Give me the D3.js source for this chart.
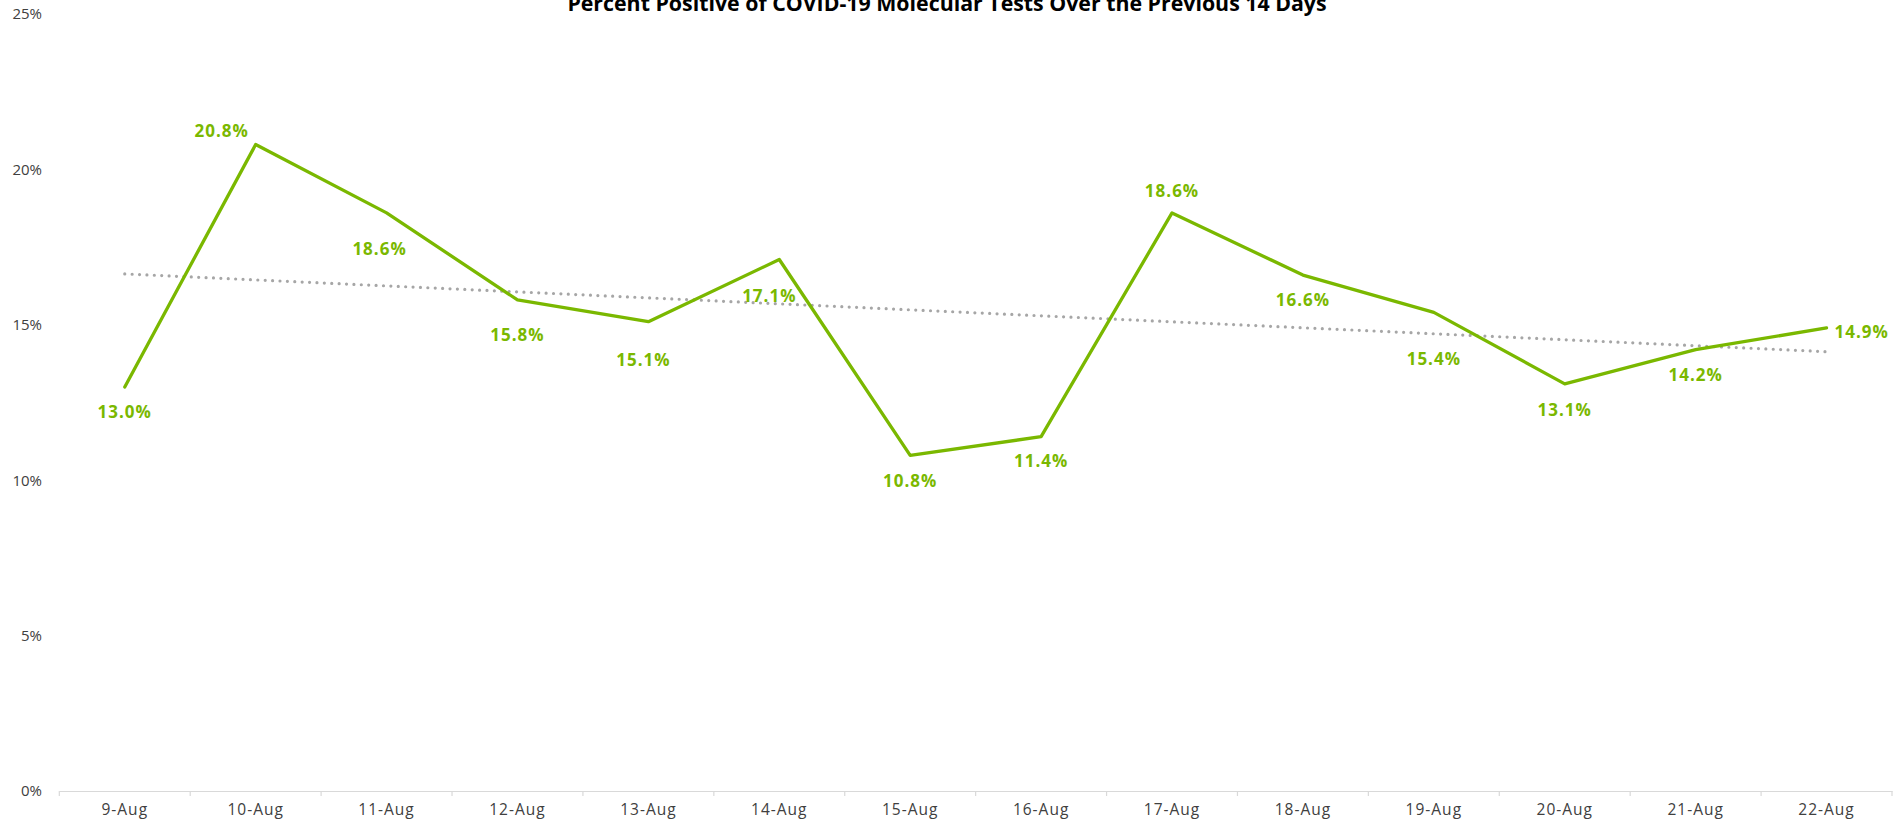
<!DOCTYPE html>
<html>
<head>
<meta charset="utf-8">
<script src="https://cdn.jsdelivr.net/npm/d3@7"></script>
<style>
  html, body { margin: 0; padding: 0; background: #ffffff; }
  svg { display: block; }
</style>
</head>
<body>
<svg id="chart" width="1895" height="827"></svg>
<script>
// ---- data ----
const title = "Percent Positive of COVID-19 Molecular Tests Over the Previous 14 Days";
const categories = ["9-Aug","10-Aug","11-Aug","12-Aug","13-Aug","14-Aug","15-Aug","16-Aug","17-Aug","18-Aug","19-Aug","20-Aug","21-Aug","22-Aug"];
const percentPositive = [13.0, 20.8, 18.6, 15.8, 15.1, 17.1, 10.8, 11.4, 18.6, 16.6, 15.4, 13.1, 14.2, 14.9];
const yTicks = [0, 5, 10, 15, 20, 25];

// ---- label layout (offsets from each point, px) ----
const labelOffsetX = [0, -34, -7, 0, -5, -10, 0, 0, 0, 0, 0, 0, 0, 8];
const labelOffsetY = [25, -14, 36, 35, 38, 36, 26, 24, -22, 25, 47, 26, 25, 4];
const labelAnchor = ["middle","middle","middle","middle","middle","middle","middle","middle","middle","middle","middle","middle","middle","start"];

// ---- setup ----
const svg = d3.select("#chart");
const green = "#7AB800";
const plotLeft = 59.3, plotRight = 1892, plotTop = 14, plotBottom = 791;

const x = d3.scaleBand().domain(categories).range([plotLeft, plotRight]).paddingInner(0).paddingOuter(0);
const y = d3.scaleLinear().domain([0, 25]).range([plotBottom, plotTop]);
const cx = d => x(d) + x.bandwidth() / 2;

// title
const t = svg.append("text")
  .attr("x", 947).attr("y", 11)
  .attr("text-anchor", "middle")
  .attr("font-family", "'Open Sans', sans-serif")
  .attr("font-weight", "bold")
  .attr("font-size", 18)
  .attr("fill", "#000000")
  .text(title);
const tw = t.node().getComputedTextLength();
t.attr("font-size", 18 * 760 / tw);

// y axis labels
const yAxis = d3.axisLeft(y).tickValues(yTicks).tickFormat(d => d + "%").tickSize(0).tickPadding(0);
const gy = svg.append("g").attr("transform", "translate(42,0)").call(yAxis);
gy.select(".domain").remove();
gy.selectAll("text")
  .attr("font-family", "'Open Sans', sans-serif")
  .attr("font-size", 15)
  .attr("fill", "#404040");

// x axis
const xAxis = d3.axisBottom(x).tickSize(0).tickPadding(0);
const gx = svg.append("g").attr("transform", `translate(0,${plotBottom})`).call(xAxis);
gx.select(".domain").attr("stroke", "#d9d9d9").attr("stroke-width", 1.2);
gx.selectAll("text")
  .attr("y", 24)
  .attr("dy", "0")
  .attr("font-family", "'Open Sans', sans-serif")
  .attr("font-size", 15.5)
  .attr("letter-spacing", 1)
  .attr("fill", "#404040");
// boundary tick marks
const boundaries = categories.map(c => x(c)).concat([plotRight]);
gx.selectAll("line.bound").data(boundaries).enter().append("line")
  .attr("class", "bound")
  .attr("x1", d => d).attr("x2", d => d)
  .attr("y1", 0).attr("y2", 5)
  .attr("stroke", "#d9d9d9").attr("stroke-width", 1.2);

// trend line (least squares)
const n = percentPositive.length;
const mx = d3.mean(d3.range(n));
const my = d3.mean(percentPositive);
const sxy = d3.sum(d3.range(n), i => (i - mx) * (percentPositive[i] - my));
const sxx = d3.sum(d3.range(n), i => (i - mx) * (i - mx));
const slope = sxy / sxx, intercept = my - slope * mx;
svg.append("line")
  .attr("x1", cx(categories[0])).attr("y1", y(intercept))
  .attr("x2", cx(categories[n - 1])).attr("y2", y(intercept + slope * (n - 1)))
  .attr("stroke", "#A6A6A6")
  .attr("stroke-width", 3.2)
  .attr("stroke-linecap", "round")
  .attr("stroke-dasharray", "0 7.4");

// main line
const line = d3.line().x((d, i) => cx(categories[i])).y(d => y(d));
svg.append("path")
  .datum(percentPositive)
  .attr("d", line)
  .attr("fill", "none")
  .attr("stroke", green)
  .attr("stroke-width", 3.3)
  .attr("stroke-linejoin", "round")
  .attr("stroke-linecap", "round");

// data labels
svg.selectAll("text.dl").data(percentPositive).enter().append("text")
  .attr("class", "dl")
  .attr("x", (d, i) => cx(categories[i]) + labelOffsetX[i])
  .attr("y", (d, i) => y(d) + labelOffsetY[i])
  .attr("dy", "0.36em")
  .attr("text-anchor", (d, i) => labelAnchor[i])
  .attr("font-family", "'Open Sans', sans-serif")
  .attr("font-weight", "bold")
  .attr("font-size", 17)
  .attr("letter-spacing", 1)
  .attr("fill", green)
  .text(d => d.toFixed(1) + "%");
</script>
</body>
</html>
